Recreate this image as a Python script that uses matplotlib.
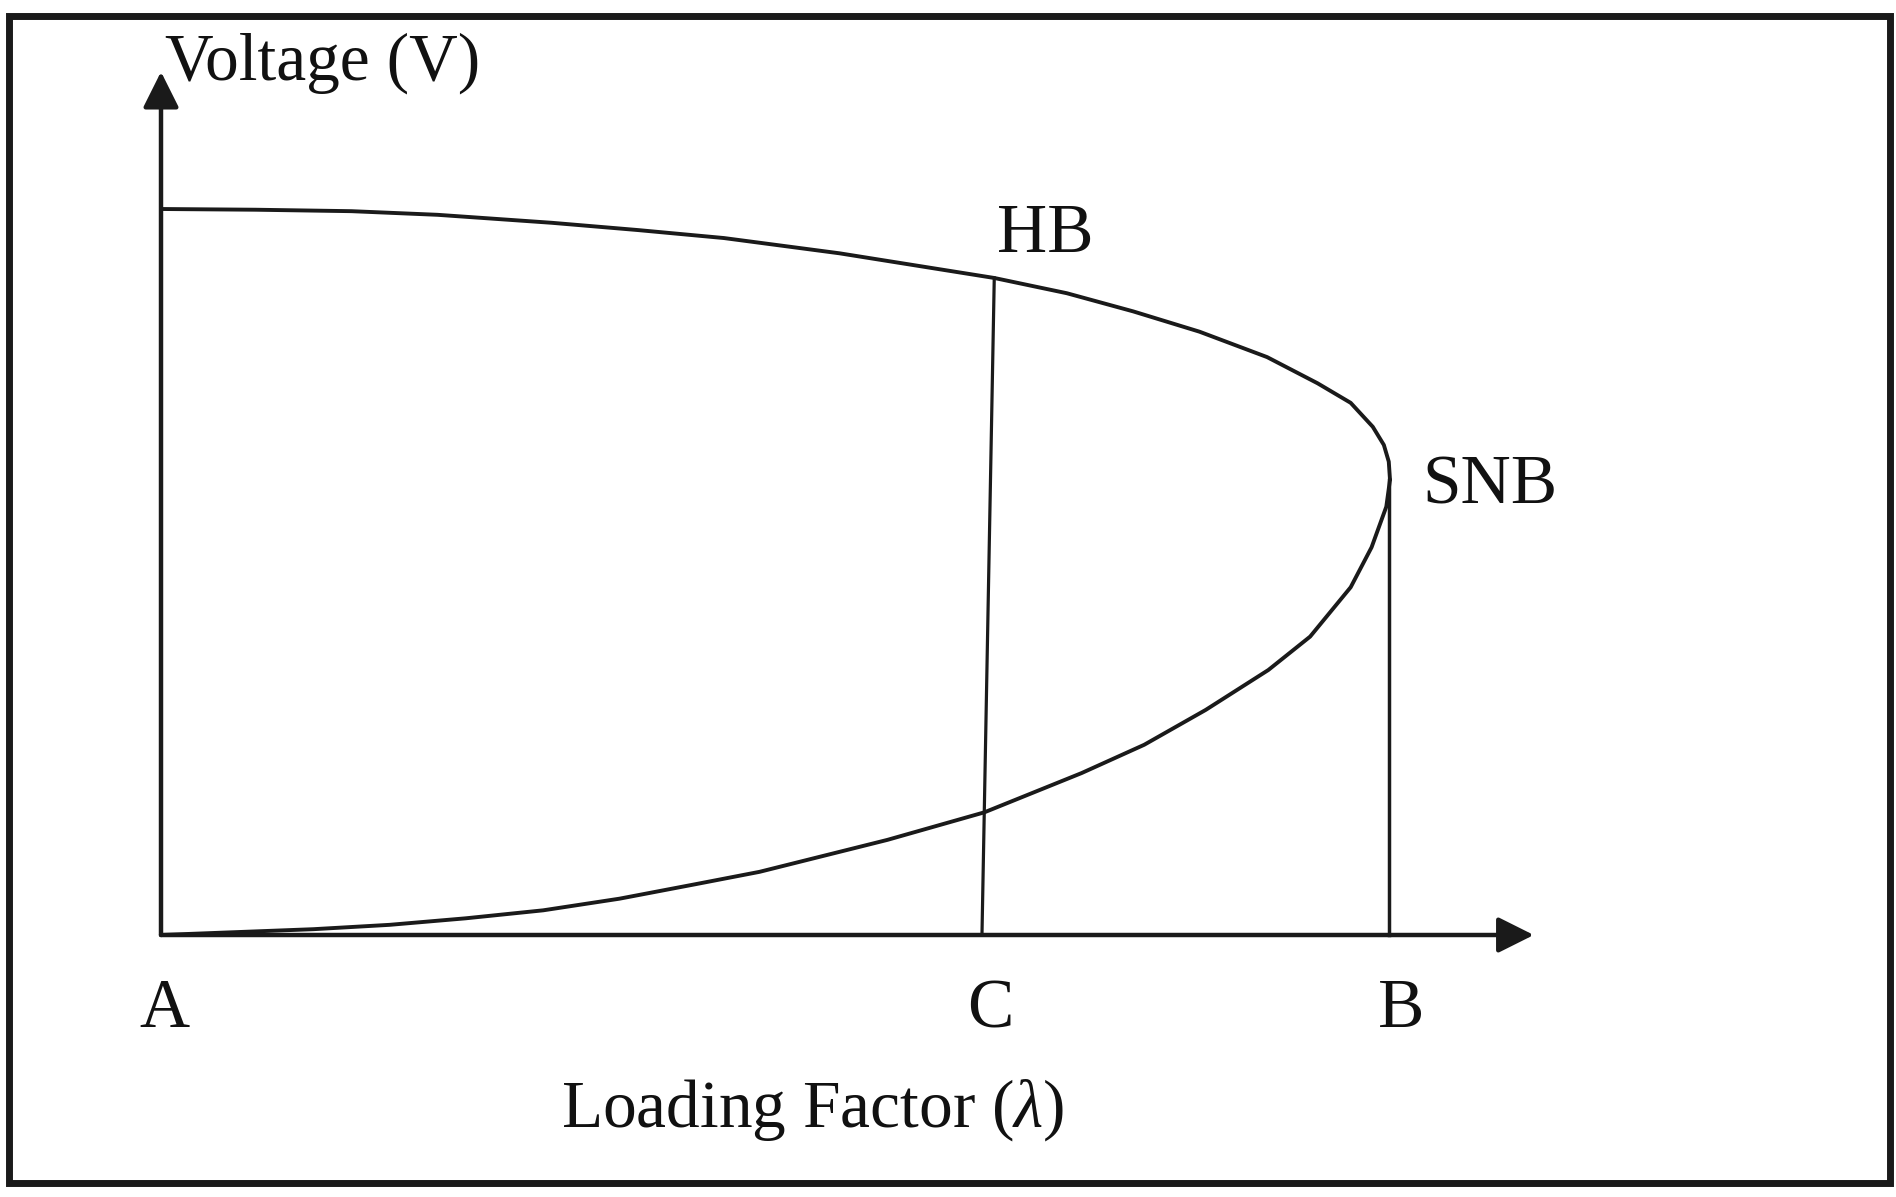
import matplotlib
matplotlib.use("Agg")
import matplotlib.pyplot as plt
from matplotlib import rcParams
from matplotlib.patches import Rectangle

rcParams["font.family"] = ["Liberation Serif", "DejaVu Serif"]
rcParams["mathtext.fontset"] = "custom"
rcParams["mathtext.rm"] = "Liberation Serif"
rcParams["mathtext.it"] = "Liberation Serif:italic"

# P-V curve (nose curve), normalised: lambda at SNB = 1, V at A = 1
upper_lam = [0, 0.077, 0.155, 0.225, 0.318, 0.388, 0.458, 0.552, 0.678, 0.737, 0.791,
             0.845, 0.900, 0.941, 0.968, 0.986, 0.995, 0.999, 1.0]
upper_v = [1.0, 0.999, 0.997, 0.992, 0.981, 0.971, 0.960, 0.939, 0.905, 0.884, 0.859,
           0.831, 0.796, 0.760, 0.733, 0.700, 0.675, 0.652, 0.627]
lower_lam = [1.0, 0.997, 0.985, 0.968, 0.935, 0.901, 0.850, 0.800, 0.749, 0.670, 0.591,
             0.487, 0.435, 0.373, 0.311, 0.248, 0.186, 0.124, 0.062, 0]
lower_v = [0.627, 0.590, 0.534, 0.479, 0.411, 0.365, 0.310, 0.262, 0.223, 0.169, 0.131,
           0.087, 0.070, 0.050, 0.034, 0.023, 0.014, 0.008, 0.004, 0]

# vertical lines: C (from HB down, slightly slanted) and B (from SNB down)
c_lam = [0.678, 0.668]
c_v = [0.905, 0.0]
b_lam = [0.999, 0.999]
b_v = [0.627, 0.0]

x_tip = 1.117
y_tip = 1.189

fig = plt.figure(figsize=(18.96, 11.97), dpi=100)
ax = fig.add_axes([0, 0, 1, 1])
ax.set_xlim(-161 / 1229, (1896 - 161) / 1229)
ax.set_ylim(-262 / 726, 935 / 726)
ax.axis("off")

# outer frame
fig.patches.append(
    Rectangle((0.0047, 0.0117), 0.992, 0.975, transform=fig.transFigure,
              fill=False, edgecolor="#1a1a1a", linewidth=5)
)

lc = "#1a1a1a"
ax.plot(upper_lam, upper_v, color=lc, linewidth=2.8, solid_capstyle="round",
        solid_joinstyle="round")
ax.plot(lower_lam, lower_v, color=lc, linewidth=2.8, solid_capstyle="round",
        solid_joinstyle="round")
ax.plot(c_lam, c_v, color=lc, linewidth=2.3)
ax.plot(b_lam, b_v, color=lc, linewidth=2.5)

arrow = dict(arrowstyle="-|>,head_length=1.1,head_width=0.55", mutation_scale=20,
             color=lc, linewidth=3.2, shrinkA=0, shrinkB=0)
ax.annotate("", xy=(x_tip, 0), xytext=(0, 0), arrowprops=arrow)
ax.annotate("", xy=(0, y_tip), xytext=(0, 0), arrowprops=arrow)

tc = "#111111"
ax.text(0.003, 1.178, "Voltage (V)", fontsize=48.5, ha="left", va="baseline", color=tc)
ax.text(0.680, 0.941, "HB", fontsize=50, ha="left", va="baseline", color=tc)
ax.text(1.026, 0.595, "SNB", fontsize=50, ha="left", va="baseline", color=tc)
ax.text(0.003, -0.127, "A", fontsize=50, ha="center", va="baseline", color=tc)
ax.text(0.6745, -0.127, "C", fontsize=50, ha="center", va="baseline", color=tc)
ax.text(1.009, -0.127, "B", fontsize=50, ha="center", va="baseline", color=tc)
ax.text(0.530, -0.2645, r"Loading Factor ($\lambda$)", fontsize=48.5, ha="center",
        va="baseline", color=tc)

fig.savefig("out.png", dpi=100)
